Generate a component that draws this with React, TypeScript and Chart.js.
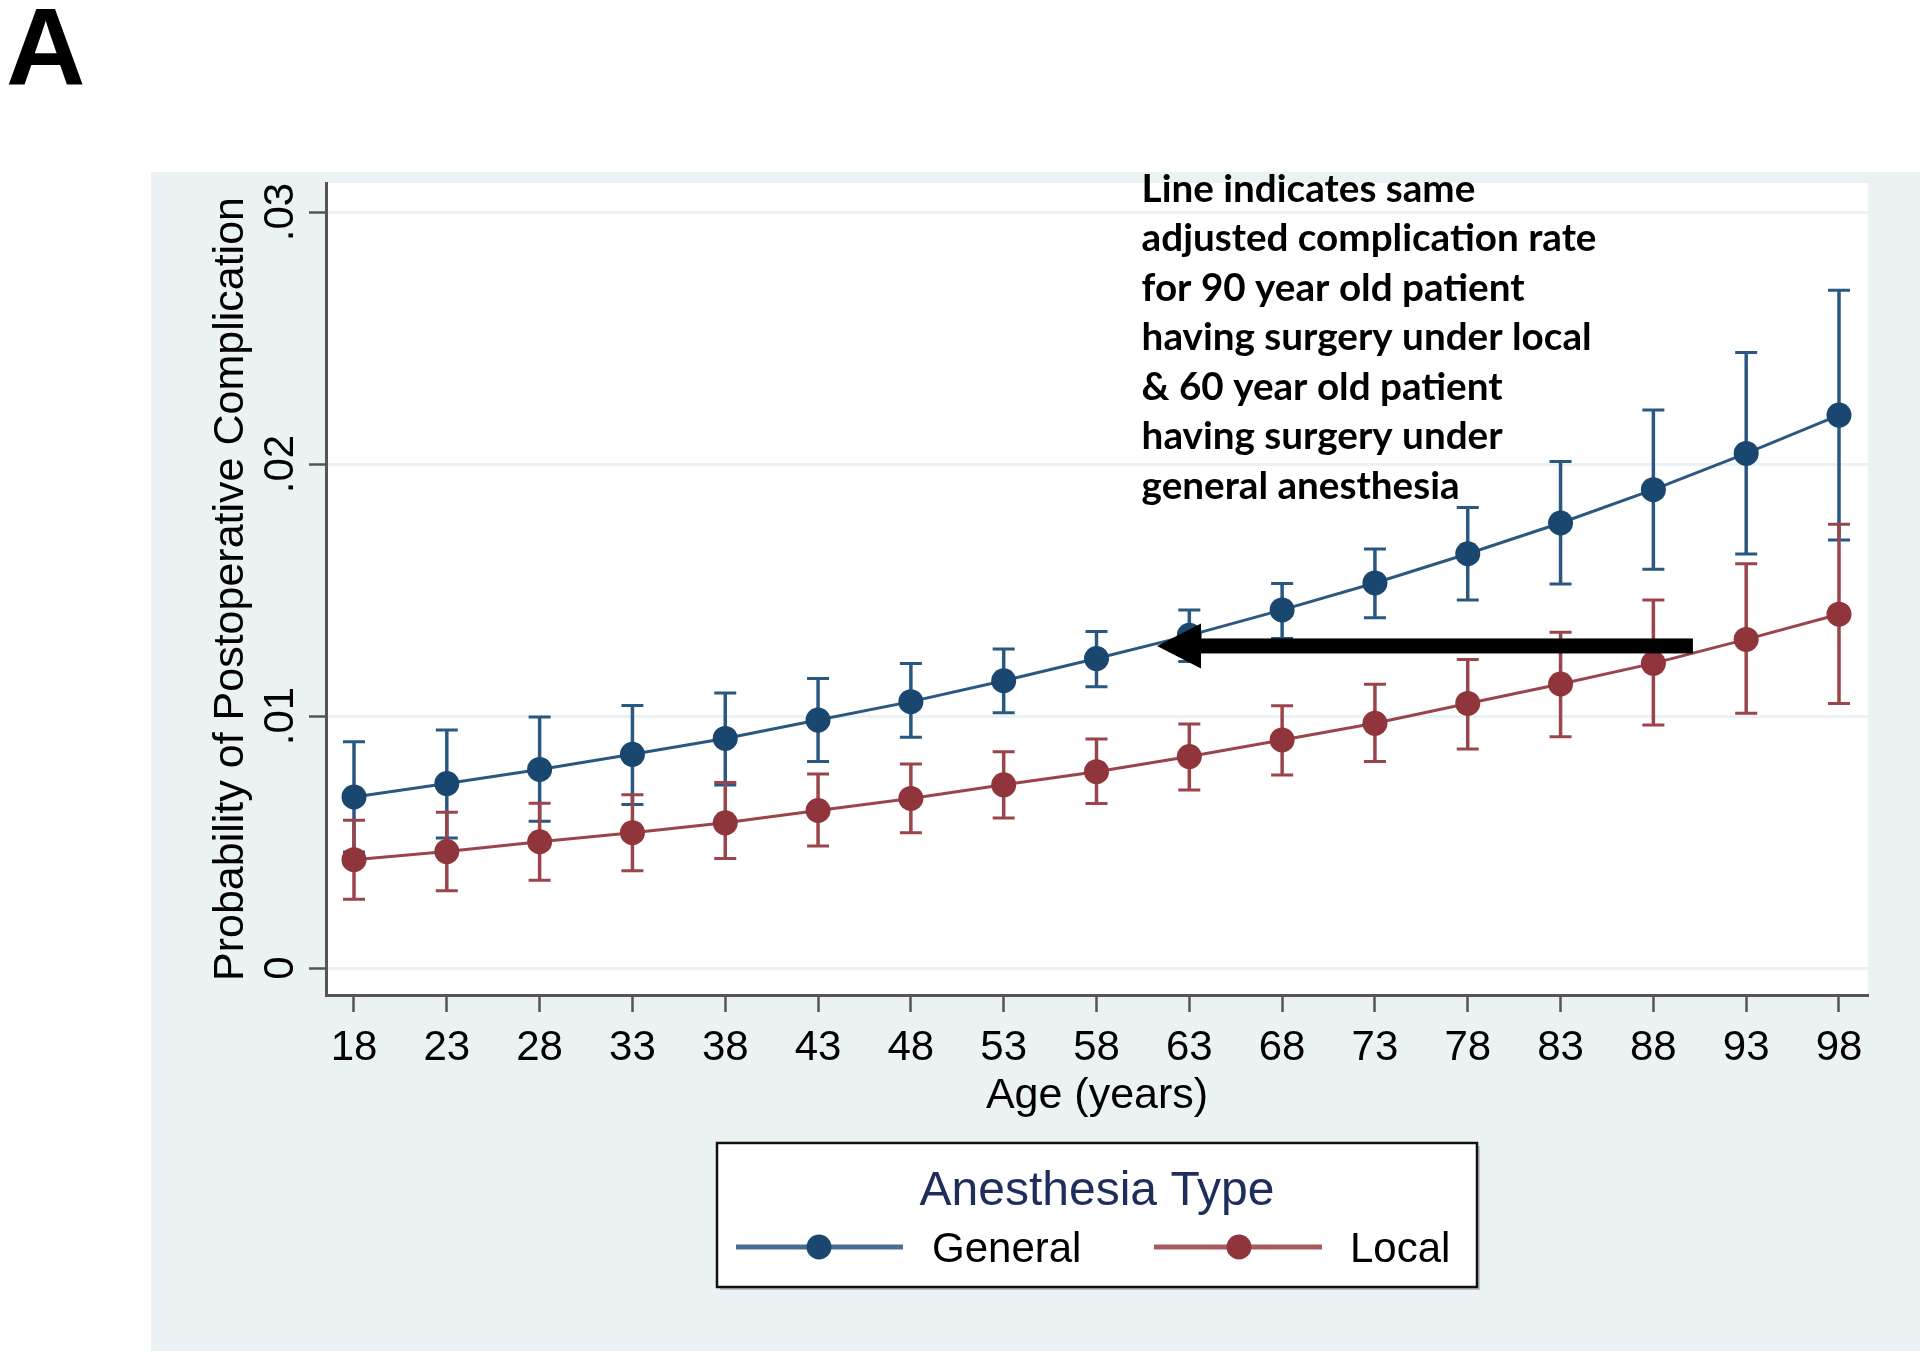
import React, { useEffect, useRef } from "react";
import { Chart, registerables } from "chart.js";

Chart.register(...registerables);

// ---------- data ----------
const ages = [18, 23, 28, 33, 38, 43, 48, 53, 58, 63, 68, 73, 78, 83, 88, 93, 98];

const generalProb = [0.00679, 0.00732, 0.00788, 0.00848, 0.00911, 0.00984, 0.01057, 0.0114, 0.01228, 0.0132, 0.01421, 0.01528, 0.01644, 0.01766, 0.01898, 0.02042, 0.02194];
const generalUpper = [0.00898, 0.00944, 0.00996, 0.01042, 0.01091, 0.01149, 0.01208, 0.01266, 0.01335, 0.01421, 0.01526, 0.01663, 0.01827, 0.0201, 0.02214, 0.02442, 0.0269];
const generalLower = [0.0046, 0.00516, 0.00582, 0.00649, 0.00726, 0.00819, 0.00916, 0.01013, 0.01116, 0.01216, 0.01308, 0.0139, 0.0146, 0.01524, 0.01582, 0.01643, 0.01698];

const localProb = [0.0043, 0.00462, 0.00501, 0.00537, 0.00576, 0.00625, 0.00673, 0.00727, 0.00779, 0.00839, 0.00905, 0.00971, 0.0105, 0.01127, 0.01209, 0.01304, 0.01404];
const localUpper = [0.00586, 0.00618, 0.00654, 0.00688, 0.00736, 0.0077, 0.0081, 0.00858, 0.00909, 0.00968, 0.01041, 0.01126, 0.01224, 0.01332, 0.0146, 0.01604, 0.01761];
const localLower = [0.00273, 0.00307, 0.00348, 0.00386, 0.00435, 0.00484, 0.00537, 0.00595, 0.00653, 0.00706, 0.00766, 0.00819, 0.00869, 0.00918, 0.00964, 0.01011, 0.0105];

const yTickValues = [0, 0.01, 0.02, 0.03];
const yTickLabels = ["0", ".01", ".02", ".03"];
const xMin = 16.4916;
const xMax = 99.5623;
const yMin = -0.001071;
const yMax = 0.031151;

const seriesNames = ["General", "Local"];
const xTitle = "Age (years)";
const yTitle = "Probability of Postoperative Complication";
const legendTitle = "Anesthesia Type";
const panelLabel = "A";

const annotationLines = [
  "Line indicates same",
  "adjusted complication rate",
  "for 90 year old patient",
  "having surgery under local",
  "& 60 year old patient",
  "having surgery under",
  "general anesthesia",
];
const annotationAge = 60.43;
const annotationValue = 0.030409;
const arrowFromAge = 90.13;
const arrowToAge = 61.26;
const arrowValue = 0.01278;

// ---------- styles ----------
const W = 1920;
const H = 1356;
const NAVY = "#1a476f";
const MAROON = "#90353b";
const NAVY_LINE = "#2b5880";
const MAROON_LINE = "#9a444b";
const PANEL = "#eaf2f3";
const AXIS = "#555555";
const FONT = "'Liberation Sans', Arial, Helvetica, sans-serif";

const errorBarPlugin = {
  id: "errorBars",
  beforeDatasetsDraw(chart: any) {
    const { ctx, scales } = chart;
    const xs = scales.x;
    const ys = scales.y;
    const sets = [
      { lo: generalLower, hi: generalUpper, color: NAVY_LINE },
      { lo: localLower, hi: localUpper, color: MAROON_LINE },
    ];
    ctx.save();
    ctx.lineCap = "butt";
    for (const s of sets) {
      ctx.strokeStyle = s.color;
      for (let i = 0; i < ages.length; i++) {
        const x = xs.getPixelForValue(ages[i]);
        const y1 = ys.getPixelForValue(s.lo[i]);
        const y2 = ys.getPixelForValue(s.hi[i]);
        ctx.lineWidth = 3.5;
        ctx.beginPath();
        ctx.moveTo(x, y1);
        ctx.lineTo(x, y2);
        ctx.stroke();
        ctx.lineWidth = 3;
        ctx.beginPath();
        ctx.moveTo(x - 11, y1);
        ctx.lineTo(x + 11, y1);
        ctx.moveTo(x - 11, y2);
        ctx.lineTo(x + 11, y2);
        ctx.stroke();
      }
    }
    ctx.restore();
  },
};

const backgroundPlugin = {
  id: "stataBackground",
  beforeDraw(chart: any) {
    const { ctx, chartArea } = chart;
    ctx.save();
    ctx.fillStyle = "#ffffff";
    ctx.fillRect(0, 0, W, H);
    ctx.fillStyle = PANEL;
    ctx.fillRect(151, 172, W - 151, 1351 - 172);
    ctx.fillStyle = "#ffffff";
    ctx.fillRect(chartArea.left, chartArea.top, chartArea.right - chartArea.left, chartArea.bottom - chartArea.top);
    ctx.restore();
  },
};

const overlayPlugin = {
  id: "overlay",
  afterDraw(chart: any) {
    const { ctx, chartArea, scales } = chart;
    const xs = scales.x;
    const ys = scales.y;
    const cx = (chartArea.left + chartArea.right) / 2;
    const cy = (chartArea.top + chartArea.bottom) / 2;
    ctx.save();

    // y tick labels (rotated)
    ctx.fillStyle = "#000";
    ctx.font = `42px ${FONT}`;
    ctx.textAlign = "center";
    ctx.textBaseline = "alphabetic";
    yTickValues.forEach((v, i) => {
      const y = ys.getPixelForValue(v);
      ctx.save();
      ctx.translate(chartArea.left - 33, y);
      ctx.rotate(-Math.PI / 2);
      ctx.fillText(yTickLabels[i], 0, 0);
      ctx.restore();
    });

    // y title
    ctx.font = `43px ${FONT}`;
    ctx.save();
    ctx.translate(chartArea.left - 83, cy);
    ctx.rotate(-Math.PI / 2);
    ctx.fillText(yTitle, 0, 0);
    ctx.restore();

    // x title
    ctx.font = `43px ${FONT}`;
    ctx.fillText(xTitle, cx, chartArea.bottom + 113);

    // legend
    const bx = cx - 380;
    const by = 1143;
    const bw = 760;
    const bh = 144;
    ctx.fillStyle = "#b9bfc2";
    ctx.fillRect(bx + 3, by + 3, bw, bh);
    ctx.fillStyle = "#ffffff";
    ctx.fillRect(bx, by, bw, bh);
    ctx.strokeStyle = "#111";
    ctx.lineWidth = 2.5;
    ctx.strokeRect(bx, by, bw, bh);

    ctx.fillStyle = "#1e2d5c";
    ctx.font = `48px ${FONT}`;
    ctx.textAlign = "center";
    ctx.fillText(legendTitle, cx, by + 62);

    const rowY = by + 104;
    const items = [
      { name: seriesNames[0], line: "#4a6f90", mark: NAVY, x0: 19, x1: 186, mx: 102, tx: 215 },
      { name: seriesNames[1], line: "#a85b61", mark: MAROON, x0: 437, x1: 605, mx: 522, tx: 633 },
    ];
    for (const it of items) {
      ctx.strokeStyle = it.line;
      ctx.lineWidth = 5;
      ctx.beginPath();
      ctx.moveTo(bx + it.x0, rowY);
      ctx.lineTo(bx + it.x1, rowY);
      ctx.stroke();
      ctx.fillStyle = it.mark;
      ctx.beginPath();
      ctx.arc(bx + it.mx, rowY, 12.5, 0, Math.PI * 2);
      ctx.fill();
      ctx.fillStyle = "#000";
      ctx.font = `42px ${FONT}`;
      ctx.textAlign = "left";
      ctx.fillText(it.name, bx + it.tx, rowY + 15);
    }

    // arrow
    const tipX = xs.getPixelForValue(arrowToAge);
    const tailX = xs.getPixelForValue(arrowFromAge);
    const ay = ys.getPixelForValue(arrowValue);
    ctx.fillStyle = "#000";
    ctx.fillRect(tipX + 43, ay - 7.5, tailX - (tipX + 43), 15);
    ctx.beginPath();
    ctx.moveTo(tipX, ay);
    ctx.lineTo(tipX + 44, ay - 22.5);
    ctx.lineTo(tipX + 44, ay + 22.5);
    ctx.closePath();
    ctx.fill();

    // annotation text
    const annFamily = "Lato, 'Open Sans', 'Noto Sans', sans-serif";
    ctx.font = `bold 100px ${annFamily}`;
    const wRef = ctx.measureText(annotationLines[1]).width;
    const size = Math.max(20, Math.min(44, (100 * 455) / wRef));
    ctx.font = `bold ${size}px ${annFamily}`;
    ctx.textAlign = "left";
    ctx.textBaseline = "alphabetic";
    const ax = xs.getPixelForValue(annotationAge);
    const ay0 = ys.getPixelForValue(annotationValue);
    annotationLines.forEach((line, i) => {
      ctx.fillText(line, ax, ay0 + i * 49.5);
    });

    // panel label
    ctx.font = `bold 110px ${FONT}`;
    ctx.fillText(panelLabel, 6, 84);

    ctx.restore();
  },
};

export default function App() {
  const canvasRef = useRef<HTMLCanvasElement | null>(null);

  useEffect(() => {
    const canvas = canvasRef.current;
    if (!canvas) return;
    const chart = new Chart(canvas, {
      type: "line",
      data: {
        datasets: [
          {
            label: seriesNames[0],
            data: ages.map((a, i) => ({ x: a, y: generalProb[i] })),
            borderColor: NAVY_LINE,
            backgroundColor: NAVY,
            borderWidth: 3,
            pointRadius: 12.5,
            pointBorderWidth: 0,
            pointBackgroundColor: NAVY,
            pointHoverRadius: 12.5,
            tension: 0,
            fill: false,
          },
          {
            label: seriesNames[1],
            data: ages.map((a, i) => ({ x: a, y: localProb[i] })),
            borderColor: MAROON_LINE,
            backgroundColor: MAROON,
            borderWidth: 3,
            pointRadius: 12.5,
            pointBorderWidth: 0,
            pointBackgroundColor: MAROON,
            pointHoverRadius: 12.5,
            tension: 0,
            fill: false,
          },
        ],
      },
      options: {
        responsive: false,
        animation: false,
        devicePixelRatio: 1,
        events: [],
        layout: { padding: { left: 0, top: 183, right: 52, bottom: 0 } },
        plugins: {
          legend: { display: false },
          tooltip: { enabled: false },
          title: { display: false },
        },
        scales: {
          x: {
            type: "linear",
            min: xMin,
            max: xMax,
            afterBuildTicks: (s: any) => {
              s.ticks = ages.map((v) => ({ value: v }));
            },
            afterFit: (s: any) => {
              s.height = 361;
            },
            grid: {
              drawOnChartArea: false,
              drawTicks: true,
              tickLength: 17,
              tickColor: AXIS,
              tickWidth: 2.5,
            },
            border: { display: true, color: AXIS, width: 3 },
            ticks: {
              autoSkip: false,
              maxRotation: 0,
              minRotation: 0,
              padding: 11,
              color: "#000",
              font: { family: FONT, size: 42 },
              callback: (v: any) => String(v),
            },
          },
          y: {
            type: "linear",
            min: yMin,
            max: yMax,
            afterBuildTicks: (s: any) => {
              s.ticks = yTickValues.map((v) => ({ value: v }));
            },
            afterFit: (s: any) => {
              s.width = 326;
            },
            grid: {
              color: PANEL,
              lineWidth: 3,
              drawTicks: true,
              tickLength: 17,
              tickColor: AXIS,
              tickWidth: 2.5,
            },
            border: { display: true, color: AXIS, width: 3 },
            ticks: { display: false },
          },
        },
      } as any,
      plugins: [backgroundPlugin, errorBarPlugin, overlayPlugin],
    });
    return () => chart.destroy();
  }, []);

  return (
    <div style={{ position: "absolute", left: 0, top: 0, width: W, height: H, background: "#fff" }}>
      <canvas ref={canvasRef} width={W} height={H} style={{ display: "block", width: W, height: H }} />
    </div>
  );
}
